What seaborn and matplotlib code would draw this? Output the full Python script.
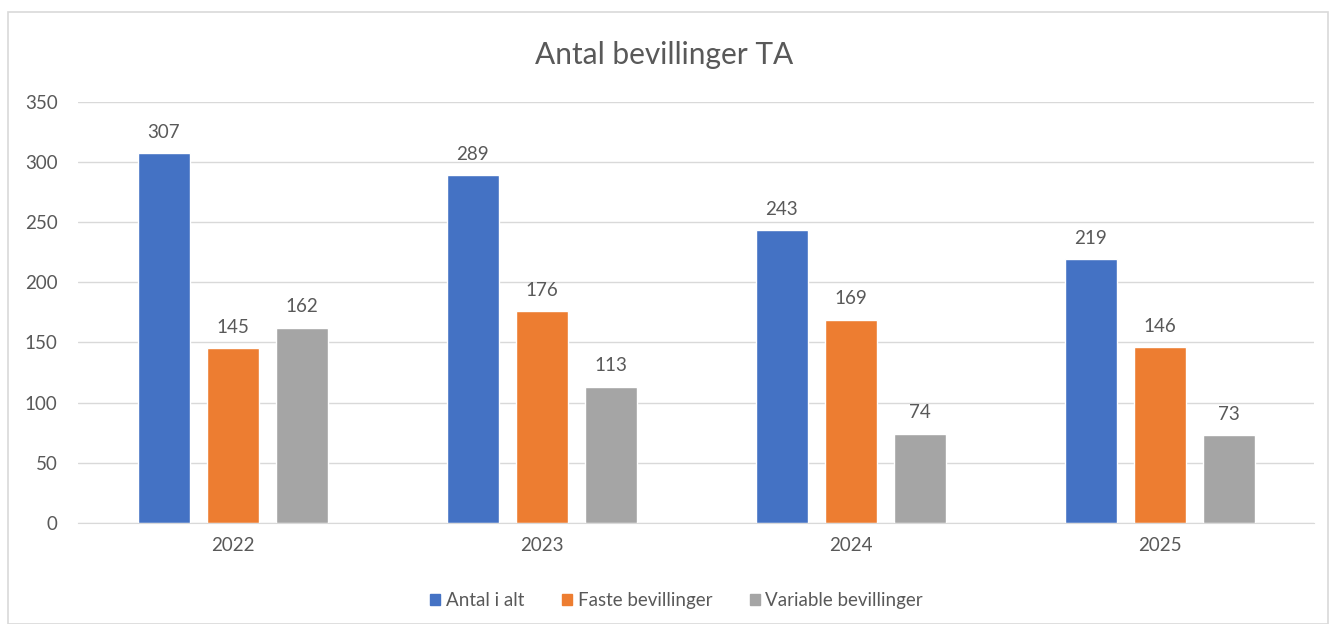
import pandas as pd
import matplotlib.pyplot as plt
import matplotlib.patches as mpatches
import seaborn as sns

# data
years = ["2022", "2023", "2024", "2025"]
series = ["Antal i alt", "Faste bevillinger", "Variable bevillinger"]
antal_i_alt = [307, 289, 243, 219]
faste = [145, 176, 169, 146]
variable = [162, 113, 74, 73]
colors = ["#4472C4", "#ED7D31", "#A5A5A5"]

df = pd.DataFrame({
    "year": years * 3,
    "serie": [s for s in series for _ in years],
    "value": antal_i_alt + faste + variable,
})

sns.set_style("white")
plt.rcParams['font.family'] = ['Lato', 'DejaVu Sans']
text_col = "#595959"

fig = plt.figure(figsize=(13.29, 6.24), dpi=100)
ax = fig.add_axes([0.059, 0.162, 0.93, 0.675])

sns.barplot(data=df, x="year", y="value", hue="serie", order=years,
            hue_order=series, palette=colors, width=0.67, gap=0.24,
            saturation=1, ax=ax, legend=False)

for cont in ax.containers:
    ax.bar_label(cont, padding=9, fontsize=13.5, color=text_col)

ax.set_ylim(0, 350)
ax.set_xlim(-0.5, 3.5)
ax.set_yticks(range(0, 351, 50))
ax.yaxis.grid(True, color="#D9D9D9", linewidth=1)
ax.set_axisbelow(True)
ax.set_xlabel("")
ax.set_ylabel("")
ax.tick_params(axis="both", labelsize=13.5, colors=text_col, length=0)
ax.tick_params(axis="y", pad=15)
ax.tick_params(axis="x", pad=10)
for s in ["top", "right", "left"]:
    ax.spines[s].set_visible(False)
ax.spines["bottom"].set_color("#D9D9D9")

fig.suptitle("Antal bevillinger TA", y=0.935, fontsize=21.5, color=text_col)

handles = [mpatches.Patch(color=c, label=s) for c, s in zip(colors, series)]
fig.legend(handles=handles, loc="center", bbox_to_anchor=(0.509, 0.038), ncol=3,
           frameon=False, fontsize=13.5, handlelength=0.55, handleheight=0.55,
           handletextpad=0.3, columnspacing=2.0, labelcolor=text_col)

# chart border like the source image
fig.patches.append(mpatches.Rectangle((8 / 1329, 0), 1 - 9 / 1329, 1 - 12 / 624,
                                      transform=fig.transFigure, fill=False,
                                      edgecolor="#D9D9D9", linewidth=1.2))

fig.savefig("out.png", dpi=100)
